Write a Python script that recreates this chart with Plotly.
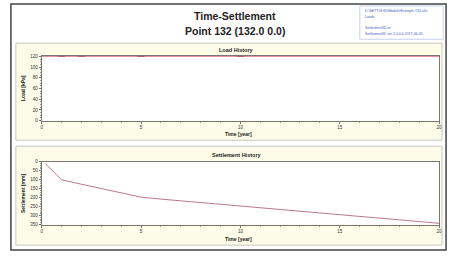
import plotly.graph_objects as go

W, H = 455, 256

# Data
load_time = [0, 1, 2, 5, 10, 20]
load_kpa = [120, 120, 120, 120, 120, 120]
marker_time = [1, 2, 5, 10]
marker_load = [120, 120, 120, 120]

settle_time = [0.2, 1, 2, 3, 4, 5, 6, 8, 10, 12.5, 15, 17.5, 20]
settle_mm = [12, 100, 125, 150, 176, 197, 208, 227, 245, 270, 294, 318, 343]

x_ticks = [0, 5, 10, 15, 20]
load_ticks = [0, 20, 40, 60, 80, 100, 120]
settle_ticks = [0, 50, 100, 150, 200, 250, 300, 350]

info_lines = ["D:\\SETTLE3D\\Models\\Example 132.s3z", "Loads",
              "Settlement3D.ini", "Settlement3D ver 2.0.0.0 2017-06-05"]

FONT = "Liberation Sans"


def px(x):
    return x / W


def py(y):
    return 1 - y / H


fig = go.Figure()
fig.add_trace(go.Scatter(x=load_time, y=load_kpa, mode="lines",
                         line=dict(color="#e88c9c", width=1),
                         xaxis="x", yaxis="y", showlegend=False, cliponaxis=False))
fig.add_trace(go.Scatter(x=marker_time, y=marker_load, mode="markers",
                         marker=dict(symbol="line-ew", size=5,
                                     line=dict(color="#b06070", width=1)),
                         xaxis="x", yaxis="y", showlegend=False, cliponaxis=False))
fig.add_trace(go.Scatter(x=settle_time, y=settle_mm, mode="lines",
                         line=dict(color="#b87890", width=1),
                         xaxis="x2", yaxis="y2", showlegend=False))

xdom = [px(41), px(442)]
axis_common = dict(showline=True, linecolor="#777", linewidth=1, mirror=True,
                   ticks="outside", ticklen=2, tickcolor="#777", showgrid=False,
                   zeroline=False, tickfont=dict(family=FONT, size=4.5, color="#333"))

fig.update_layout(
    width=W, height=H, margin=dict(l=0, r=0, t=0, b=0),
    paper_bgcolor="white", plot_bgcolor="white",
    font=dict(family=FONT),
    xaxis=dict(domain=xdom, range=[0, 20], tickvals=x_ticks, anchor="y",
               minor=dict(ticks="outside", ticklen=1, dtick=1, tickcolor="#999"),
               **axis_common),
    yaxis=dict(domain=[py(121), py(55)], range=[0, 121], tickvals=load_ticks, anchor="x",
               minor=dict(ticks="outside", ticklen=1, dtick=5, tickcolor="#999"),
               **axis_common),
    xaxis2=dict(domain=xdom, range=[0, 20], tickvals=x_ticks, anchor="y2",
                minor=dict(ticks="outside", ticklen=1, dtick=1, tickcolor="#999"),
                **axis_common),
    yaxis2=dict(domain=[py(227), py(163)], range=[350, 0], tickvals=settle_ticks, anchor="x2",
                minor=dict(ticks="outside", ticklen=1, dtick=10, tickcolor="#999"),
                **axis_common),
)


def rect(x0, y0, x1, y1, line, fill, width=1):
    return dict(type="rect", xref="paper", yref="paper", x0=px(x0), x1=px(x1),
                y0=py(y1), y1=py(y0), line=dict(color=line, width=width),
                fillcolor=fill, layer="below")


shapes = [
    rect(10, 2, 449, 253, "#444", "rgba(0,0,0,0)", 1.5),
    rect(15, 42, 445, 141, "#c8c8c0", "#fcfce8"),
    rect(15, 147, 445, 248, "#c8c8c0", "#fcfce8"),
    rect(41, 55, 442, 121, "rgba(0,0,0,0)", "white", 0),
    rect(41, 163, 442, 227, "rgba(0,0,0,0)", "white", 0),
    rect(362, 4, 446, 38, "#c8d0f0", "white"),
]
fig.update_layout(shapes=shapes)

ann = []


def text(t, x, y, size, color="#222", angle=0, xanchor="center"):
    ann.append(dict(text=t, x=px(x), y=py(y), xref="paper", yref="paper",
                    showarrow=False, textangle=angle, xanchor=xanchor, yanchor="middle",
                    font=dict(family=FONT, size=size, color=color)))


text("<b>Time-Settlement</b>", 236, 14, 10.5)
text("<b>Point 132 (132.0 0.0)</b>", 236, 30, 10.5)
text("<b>Load History</b>", 238, 48.5, 5.5)
text("<b>Settlement History</b>", 238, 156, 5.5)
text("<b>Time [year]</b>", 240, 135, 5)
text("<b>Time [year]</b>", 240, 242, 5)
text("<b>Load [kPa]</b>", 22, 88, 5, angle=-90)
text("<b>Settlement [mm]</b>", 22, 195, 5, angle=-90)
info_y = [9, 15, 27, 33]
for t, yy in zip(info_lines, info_y):
    text(t, 365, yy, 3.5, color="#4a5ac8", xanchor="left")
fig.update_layout(annotations=ann)

fig.write_html("out.html", config={"displayModeBar": False},
               post_script="document.body.style.margin='0';document.body.style.overflow='hidden';")
